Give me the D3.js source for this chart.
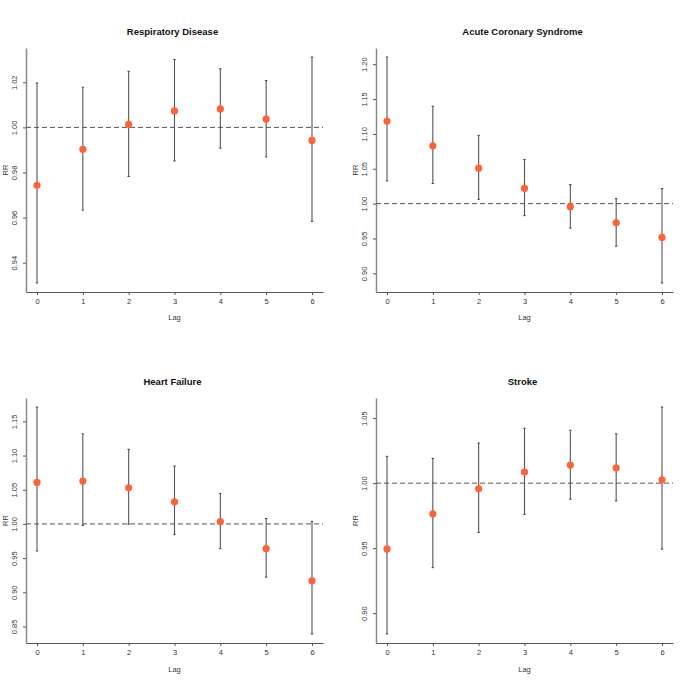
<!DOCTYPE html>
<html><head><meta charset="utf-8">
<script src="https://cdn.jsdelivr.net/npm/d3@7"></script>
<style>body{margin:0;background:#fff}svg{display:block}text{font-family:"Liberation Sans",Arial,sans-serif}</style>
</head><body>
<svg id="chart" width="700" height="700"></svg>
<script>
const lags = [0,1,2,3,4,5,6];
const titles = ["Respiratory Disease","Acute Coronary Syndrome","Heart Failure","Stroke"];
const respRR  = [0.9743,0.9903,1.0013,1.0073,1.0082,1.0037,0.9942];
const respLo  = [0.9310,0.9633,0.9782,0.9851,0.9908,0.9869,0.9583];
const respHi  = [1.0197,1.0178,1.0249,1.0301,1.0260,1.0208,1.0312];
const acsRR   = [1.1185,1.0830,1.0508,1.0220,0.9957,0.9726,0.9515];
const acsLo   = [1.0326,1.0288,1.0062,0.9827,0.9649,0.9390,0.8862];
const acsHi   = [1.2103,1.1397,1.0979,1.0634,1.0274,1.0072,1.0216];
const hfRR    = [1.0607,1.0627,1.0529,1.0323,1.0035,0.9638,0.9169];
const hfLo    = [0.9604,0.9976,0.9996,0.9844,0.9638,0.9222,0.8391];
const hfHi    = [1.1709,1.1317,1.1092,1.0847,1.0446,1.0079,1.0035];
const strRR   = [0.9494,0.9763,0.9956,1.0085,1.0139,1.0118,1.0026];
const strLo   = [0.8840,0.9350,0.9621,0.9760,0.9876,0.9863,0.9492];
const strHi   = [1.0206,1.0190,1.0309,1.0422,1.0407,1.0379,1.0585];
const yTicks = [
  [0.94,0.96,0.98,1.00,1.02],
  [0.90,0.95,1.00,1.05,1.10,1.15,1.20],
  [0.85,0.90,0.95,1.00,1.05,1.10,1.15],
  [0.90,0.95,1.00,1.05]
];
const series = [[respRR,respLo,respHi],[acsRR,acsLo,acsHi],[hfRR,hfLo,hfHi],[strRR,strLo,strHi]];

const svg = d3.select("#chart");
const panels = [
  {x0:26, x1:323, y0:48, y1:292, ty:32, ly:318},
  {x0:376, x1:673, y0:48, y1:292, ty:32, ly:318},
  {x0:26, x1:323, y0:398, y1:643, ty:382, ly:670},
  {x0:376, x1:673, y0:398, y1:643, ty:382, ly:670}
];

panels.forEach((p,i)=>{
  const [rr,lo,hi] = series[i];
  const g = svg.append("g");
  const mn = d3.min(lo), mx = d3.max(hi), pad = (mx-mn)*0.04;
  const x = d3.scaleLinear().domain([-0.24,6.24]).range([p.x0,p.x1]);
  const y = d3.scaleLinear().domain([mn-pad,mx+pad]).range([p.y1,p.y0]);
  const fmt = d3.format(".2f");

  const xa = g.append("g").attr("transform",`translate(0,${p.y1})`)
    .call(d3.axisBottom(x).tickValues(lags).tickFormat(d3.format("d")).tickSize(3).tickPadding(4).tickSizeOuter(0));
  xa.select(".domain").attr("stroke","#555").attr("stroke-width",1);
  xa.selectAll(".tick line").attr("stroke","#555");
  xa.selectAll("text").attr("font-size",7.5).attr("fill","#333");

  const ya = g.append("g").attr("transform",`translate(${p.x0},0)`)
    .call(d3.axisLeft(y).tickValues(yTicks[i]).tickFormat(fmt).tickSize(3).tickSizeOuter(0));
  ya.select(".domain").attr("stroke","#888").attr("stroke-width",1.5);
  ya.selectAll(".tick line").attr("stroke","#555");
  ya.selectAll(".tick text").attr("font-size",7.5).attr("fill","#333")
    .attr("transform","rotate(-90)").attr("x",0).attr("y",-9).attr("dy","0").attr("text-anchor","middle");

  g.append("line").attr("x1",p.x0).attr("x2",p.x1).attr("y1",y(1)).attr("y2",y(1))
    .attr("stroke","#555").attr("stroke-width",1).attr("stroke-dasharray","5,3");

  lags.forEach((l,j)=>{
    g.append("line").attr("x1",x(l)).attr("x2",x(l)).attr("y1",y(lo[j])).attr("y2",y(hi[j]))
      .attr("stroke","#555").attr("stroke-width",1.1);
    [lo[j],hi[j]].forEach(v=>g.append("line").attr("x1",x(l)-1.2).attr("x2",x(l)+1.2)
      .attr("y1",y(v)).attr("y2",y(v)).attr("stroke","#444").attr("stroke-width",1));
  });
  g.selectAll("circle.pt").data(rr).join("circle").attr("class","pt")
    .attr("cx",(d,j)=>x(lags[j])).attr("cy",d=>y(d)).attr("r",3.6).attr("fill","#FF6236");

  g.append("text").attr("x",(p.x0+p.x1)/2-2).attr("y",p.ty).attr("text-anchor","middle")
    .attr("dominant-baseline","middle").attr("font-size",9.5).attr("font-weight","bold").attr("fill","#111").text(titles[i]);
  g.append("text").attr("x",(p.x0+p.x1)/2).attr("y",p.ly).attr("text-anchor","middle")
    .attr("dominant-baseline","middle").attr("font-size",7.5).attr("fill","#333").text("Lag");
  g.append("text").attr("transform",`translate(${p.x0-20},${(p.y0+p.y1)/2}) rotate(-90)`)
    .attr("text-anchor","middle").attr("dominant-baseline","middle").attr("font-size",7.5).attr("fill","#333").text("RR");
});
</script>
</body></html>
